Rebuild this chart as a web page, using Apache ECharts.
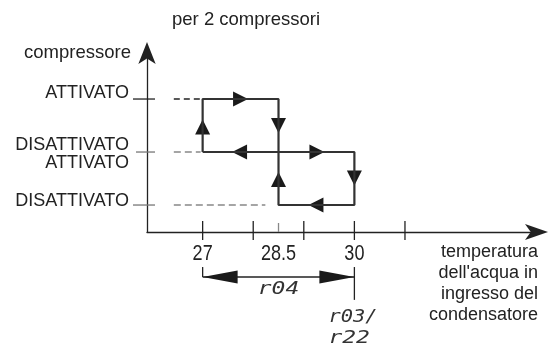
<!DOCTYPE html>
<html>
<head>
<meta charset="utf-8">
<script src="https://cdn.jsdelivr.net/npm/echarts@6/dist/echarts.min.js"></script>
<style>html,body{margin:0;padding:0;background:#fff}#c{width:551px;height:348px}</style>
</head>
<body>
<div id="c"></div>
<script>
// ---- data ----
const levels = [0, 1, 2];
const levelLabels = ['DISATTIVATO', 'DISATTIVATO\nATTIVATO', 'ATTIVATO'];
const xTicks = [27, 28, 29, 30, 31];
const xMidTicks = [28.5];
const xTickLabels = [27, 28.5, 30];
const cycleX = [27, 27, 28.5, 28.5, 30, 30, 27];
const cycleY = [1, 2, 2, 0, 0, 1, 1];
const arrowX = [27, 27.75, 28.5, 27.73, 29.26, 30, 29.24, 28.5];
const arrowY = [1.47, 2, 1.5, 1, 1, 0.51, 0, 0.48];
const arrowDir = ['up', 'right', 'down', 'left', 'right', 'down', 'left', 'up'];
const guideLevels = [2, 1, 0];
const guideStartX = [26.43, 26.43, 26.43];
const guideEndX = [26.96, 26.96, 28.24];
const r04Range = [27, 30];
const r04Level = -1.358;
const bracketTop = -1.17;
const r03Bottom = -1.79;

// ---- chart ----
const X_MIN = 25.9, X_MAX = 33.63, Y_MIN = -0.509, Y_MAX = 2.925;
const INK = '#222';
const GRAY = '#888';
const FONT = 'Liberation Sans, Arial, sans-serif';

const arrowPaths = {
  right: 'path://M0,0L10,5L0,10Z',
  left: 'path://M10,0L0,5L10,10Z',
  up: 'path://M0,10L5,0L10,10Z',
  down: 'path://M0,0L10,0L5,10Z'
};

const chart = echarts.init(document.getElementById('c'), null, {renderer: 'canvas'});

const option = {
  animation: false,
  backgroundColor: '#fff',
  grid: {left: 147, right: 13, top: 50, bottom: 116, containLabel: false},
  xAxis: {
    type: 'value', min: X_MIN, max: X_MAX,
    splitLine: {show: false},
    axisTick: {show: false},
    axisLabel: {show: false},
    axisLine: {show: true, onZero: false, lineStyle: {color: INK, width: 1.3},
      symbol: ['none', 'arrow'], symbolSize: [12, 23], symbolOffset: [0, 10]}
  },
  yAxis: {
    type: 'value', min: Y_MIN, max: Y_MAX,
    splitLine: {show: false},
    axisTick: {show: false},
    axisLabel: {show: false},
    axisLine: {show: true, onZero: false, lineStyle: {color: INK, width: 1.3},
      symbol: ['none', 'arrow'], symbolSize: [13, 22], symbolOffset: [0, 8]}
  },
  graphic: [
    {type: 'text', x: 172, y: 20, style: {text: 'per 2 compressori', fontSize: 18.5, fontFamily: FONT, fill: INK, verticalAlign: 'middle'}},
    {type: 'text', x: 131, y: 53, style: {text: 'compressore', fontSize: 18.5, fontFamily: FONT, fill: INK, align: 'right', verticalAlign: 'middle'}},
    {type: 'text', x: 538, y: 207, scaleX: 0.85, scaleY: 1.2, originX: 538, originY: 207,
      style: {text: '°C', fontSize: 20, fontFamily: FONT, fill: INK, align: 'right', verticalAlign: 'middle'}},
    {type: 'text', x: 538, y: 252, style: {text: "temperatura\ndell'acqua in\ningresso del\ncondensatore", fontSize: 18, lineHeight: 21, fontFamily: FONT, fill: INK, align: 'right', verticalAlign: 'top'}, originX: 538, originY: 252, y: 242}
  ],
  series: [
    // dashed guides
    {
      type: 'custom', clip: false, silent: true,
      data: guideLevels.map((l, i) => [guideStartX[i], l, guideEndX[i]]),
      renderItem: (params, api) => {
        const a = api.coord([api.value(0), api.value(1)]);
        const b = api.coord([api.value(2), api.value(1)]);
        const top = params.dataIndex === 0;
        return {type: 'line', shape: {x1: a[0], y1: a[1], x2: b[0], y2: b[1]},
          style: {stroke: top ? INK : GRAY, lineWidth: 1.3, lineDash: top ? [6, 4] : [7, 4]}};
      }
    },
    // hysteresis cycle
    {
      type: 'line', clip: false, silent: true,
      data: cycleX.map((x, i) => [x, cycleY[i]]),
      symbol: 'none',
      lineStyle: {color: '#333', width: 2.2}
    },
    // direction arrows
    {
      type: 'scatter', clip: false, silent: true,
      data: arrowX.map((x, i) => [x, arrowY[i], i]),
      symbol: (v) => arrowPaths[arrowDir[v[2]]],
      symbolSize: [15, 15],
      symbolKeepAspect: false,
      itemStyle: {color: '#1a1a1a', opacity: 1}
    },
    // x ticks
    {
      type: 'custom', clip: false, silent: true,
      data: xTicks.map(x => [x, Y_MIN]),
      renderItem: (params, api) => {
        const p = api.coord([api.value(0), api.value(1)]);
        return {type: 'line', shape: {x1: p[0], y1: p[1] - 11, x2: p[0], y2: p[1] + 8},
          style: {stroke: INK, lineWidth: 1.3}};
      }
    },
    {
      type: 'custom', clip: false, silent: true,
      data: xMidTicks.map(x => [x, Y_MIN]),
      renderItem: (params, api) => {
        const p = api.coord([api.value(0), api.value(1)]);
        return {type: 'line', shape: {x1: p[0], y1: p[1] - 9, x2: p[0], y2: p[1]},
          style: {stroke: GRAY, lineWidth: 1.3}};
      }
    },
    // x tick labels
    {
      type: 'custom', clip: false, silent: true,
      data: xTickLabels.map(x => [x, Y_MIN]),
      renderItem: (params, api) => {
        const p = api.coord([api.value(0), api.value(1)]);
        return {type: 'text', x: p[0], y: p[1] + 22, scaleX: 0.95, scaleY: 1.15,
          style: {text: String(api.value(0)), fontSize: 19, fontFamily: FONT, fill: INK,
            align: 'center', verticalAlign: 'middle'}};
      }
    },
    // y ticks + labels
    {
      type: 'custom', clip: false, silent: true,
      data: levels.map((l, i) => [X_MIN, l, i]),
      renderItem: (params, api) => {
        const p = api.coord([api.value(0), api.value(1)]);
        const i = api.value(2);
        const dy = [-3.5, 2, -6][i];
        const left = i === 1 ? 11 : 14;
        return {type: 'group', children: [
          {type: 'line', shape: {x1: p[0] - left, y1: p[1], x2: p[0] + 8, y2: p[1]},
            style: {stroke: i === 2 ? INK : '#777', lineWidth: 1.3}},
          {type: 'text', x: p[0] - 18, y: p[1] + dy,
            style: {text: levelLabels[i], fontSize: 18, lineHeight: 18, fontFamily: FONT, fill: INK,
              align: 'right', verticalAlign: 'middle'}}
        ]};
      }
    },
    // r04 double arrow
    {
      type: 'line', clip: false, silent: true,
      data: [
        {value: [r04Range[0], r04Level], symbol: 'path://M0,6.5L35,0L35,13Z', symbolSize: [35, 13], symbolOffset: [17.5, 0]},
        {value: [r04Range[1], r04Level], symbol: 'path://M35,6.5L0,0L0,13Z', symbolSize: [35, 13], symbolOffset: [-17.5, 0]}
      ],
      symbolKeepAspect: false,
      showAllSymbol: true,
      itemStyle: {color: '#1a1a1a'},
      lineStyle: {color: INK, width: 1.3}
    },
    // brackets
    {
      type: 'custom', clip: false, silent: true,
      data: [[r04Range[0], bracketTop, r04Level], [r04Range[1], bracketTop, r03Bottom]],
      renderItem: (params, api) => {
        const a = api.coord([api.value(0), api.value(1)]);
        const b = api.coord([api.value(0), api.value(2)]);
        return {type: 'line', shape: {x1: a[0], y1: a[1], x2: b[0], y2: b[1]},
          style: {stroke: INK, lineWidth: 1.3}};
      }
    },
    // parameter labels
    {
      type: 'custom', clip: false, silent: true,
      data: [[(r04Range[0] + r04Range[1]) / 2, r04Level]],
      renderItem: (params, api) => {
        const p = api.coord([api.value(0), api.value(1)]);
        const q = api.coord([r04Range[1], r03Bottom]);
        const st = {fontSize: 17, fontFamily: 'DejaVu Sans Mono, monospace', fontStyle: 'italic', fill: '#333', verticalAlign: 'middle'};
        return {type: 'group', children: [
          {type: 'text', x: p[0], y: p[1] + 13, scaleX: 1.35, style: Object.assign({text: 'r04', align: 'center'}, st)},
          {type: 'text', x: q[0] - 26, y: q[1] + 18, scaleX: 1.2, style: Object.assign({text: 'r03/', align: 'left'}, st)},
          {type: 'text', x: q[0] - 26, y: q[1] + 39, scaleX: 1.35, style: Object.assign({text: 'r22', align: 'left'}, st)}
        ]};
      }
    }
  ]
};
chart.setOption(option);
</script>
</body>
</html>
